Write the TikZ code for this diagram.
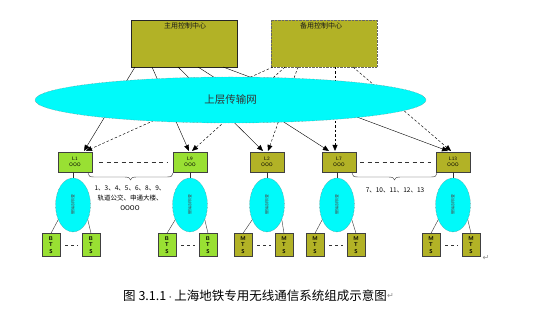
\documentclass[tikz,border=0pt]{standalone}
\usepackage{fontspec}
\newfontfamily\cjk{Noto Sans CJK SC}
\newfontfamily\dv{DejaVu Sans}
\usetikzlibrary{arrows.meta,decorations.pathreplacing,shapes.geometric}
\definecolor{oliveA}{RGB}{178,178,38}
\definecolor{limeA}{RGB}{153,224,51}
\definecolor{cyanA}{RGB}{0,250,250}
\tikzset{
  ctrlbox/.style={draw=black!85, fill=oliveA, minimum width=106pt, minimum height=47pt, inner sep=0},
  ctrltext/.style={font=\cjk\fontsize{7}{8}\selectfont, text=black!90, inner sep=0},
  lnode/.style={draw=black!75, minimum width=34pt, minimum height=20pt, inner sep=0, align=center, font=\sffamily\fontsize{5}{5.5}\selectfont},
  subnet/.style={ellipse, draw=black!60, densely dotted, fill=cyanA, minimum width=35pt, minimum height=54pt, inner sep=0},
  subtext/.style={font=\cjk\fontsize{4}{4}\selectfont, text=black!70, rotate=-90},
  basebox/.style={draw=black!75, minimum width=18pt, minimum height=23pt, inner sep=0, align=center, font=\sffamily\bfseries\fontsize{5.5}{6.5}\selectfont},
  link/.style={draw=black, line width=0.4pt, -{Triangle[length=6pt,width=5pt]}},
  dlink/.style={draw=black, line width=0.45pt, dash pattern=on 2.5pt off 2pt, -{Triangle[length=6pt,width=5pt]}},
  gap/.style={draw=black!80, dash pattern=on 4pt off 3.5pt, line width=0.5pt},
  sgap/.style={draw=black!80, dash pattern=on 3pt off 3pt, line width=0.5pt},
  thin/.style={draw=black!80, line width=0.4pt},
  note/.style={font=\cjk\fontsize{6.5}{10}\selectfont, align=center, inner sep=0},
  pmark/.style={font=\dv\fontsize{8}{8}\selectfont, text=black!45, inner sep=0}
}
\begin{document}
\begin{tikzpicture}[x=1pt,y=-1pt]
\useasboundingbox[fill=white] (0,0) rectangle (547,320);
% control centres
\node[ctrlbox] (main) at (184,43.5) {};
\node[ctrlbox, draw=black!60, densely dotted] (backup) at (324,43.5) {};
\node[ctrltext] (maint) at (185,26) {主用控制中心};
\node[ctrltext] (backupt) at (321,26) {备用控制中心};
% L nodes
\node[lnode, fill=limeA] (L1) at (75,162) {L1\\OOO};
\node[lnode, fill=limeA] (L9) at (190,162) {L9\\OOO};
\node[lnode, fill=oliveA] (L2) at (267,162) {L2\\OOO};
\node[lnode, fill=oliveA] (L7) at (339,162) {L7\\OOO};
\node[lnode, fill=oliveA] (L13) at (453,162) {L13\\OOO};
% start points on control boxes
\coordinate (m1) at (135,67);
\coordinate (m2) at (152,67);
\coordinate (m3) at (178,67);
\coordinate (m4) at (198,67);
\coordinate (m5) at (223,67);
\coordinate (b1) at (273,67);
\coordinate (b2) at (285,67);
\coordinate (b3) at (298,67);
\coordinate (b4) at (335,67);
\coordinate (b5) at (353,67);
\coordinate (t1) at (84,151);
\coordinate (t2) at (189,151);
\coordinate (t3) at (263,151);
\coordinate (t4) at (329,151);
\coordinate (t5) at (448,151);
\coordinate (u1) at (86,151);
\coordinate (u2) at (192,151);
\coordinate (u3) at (268,151);
\coordinate (u4) at (335,151);
\coordinate (u5) at (451,151);
\draw[link] (m1) -- (t1);
\draw[link] (m2) -- (t2);
\draw[link] (m3) -- (t3);
\draw[link] (m4) -- (t4);
\draw[link] (m5) -- (t5);
\draw[dlink] (b1) -- (u1);
\draw[dlink] (b2) -- (u2);
\draw[dlink] (b3) -- (u3);
\draw[dlink] (b4) -- (u4);
\draw[dlink] (b5) -- (u5);
% upper transport network
\node[ellipse, draw=black!55, densely dotted, fill=cyanA, minimum width=391pt, minimum height=46pt, inner sep=0,
      font=\cjk\fontsize{10.5}{12}\selectfont, text=black!80] (net) at (230.5,100) {上层传输网};
% gaps and braces
\draw[gap, shorten <=7pt, shorten >=5pt] (L1) -- (L9);
\draw[gap, shorten <=4pt, shorten >=5pt] (L7) -- (L13);
\coordinate (br1a) at (88,173);
\coordinate (br1b) at (173,173);
\coordinate (br2a) at (352,173);
\coordinate (br2b) at (437,173);
\draw[thin] (br1a) .. controls (88,176) and (90,177) .. (94,177) -- (124.5,177) .. controls (128.5,177) and (130.5,178) .. (130.5,180)
             .. controls (130.5,178) and (132.5,177) .. (136.5,177) -- (167,177) .. controls (171,177) and (173,176) .. (br1b);
\draw[thin] (br2a) .. controls (352,176) and (354,177) .. (358,177) -- (388.5,177) .. controls (392.5,177) and (394.5,178) .. (394.5,180)
             .. controls (394.5,178) and (396.5,177) .. (400.5,177) -- (431,177) .. controls (435,177) and (437,176) .. (br2b);
\node[note] (n1) at (130,198.5) {1、3、4、5、6、8、9、\\轨道公交、申通大楼、\\OOOO};
\node[note] (n2) at (395,190) {7、10、11、12、13};
% sub networks
\node[subnet] (e1) at (73,205) {};
\node[subnet] (e9) at (190,205) {};
\node[subnet] (e2) at (267,205) {};
\node[subnet] (e7) at (337,205) {};
\node[subnet] (e13) at (453,205) {};
\node[subtext] (e1t) at (e1) {基站控制器};
\node[subtext] (e9t) at (e9) {基站控制器};
\node[subtext] (e2t) at (e2) {基站控制器};
\node[subtext] (e7t) at (e7) {基站控制器};
\node[subtext] (e13t) at (e13) {基站控制器};
\draw[thin] (L1.south -| e1) -- (e1.north);
\draw[thin] (L9.south) -- (e9.north);
\draw[thin] (L2.south) -- (e2.north);
\draw[thin] (L7.south -| e7) -- (e7.north);
\draw[thin] (L13.south) -- (e13.north);
% base stations
\node[basebox, fill=limeA] (s1a) at (51,245) {B\\T\\S};
\node[basebox, fill=limeA] (s1b) at (91,245) {B\\T\\S};
\node[basebox, fill=limeA] (s9a) at (167,245) {B\\T\\S};
\node[basebox, fill=limeA] (s9b) at (208,245) {B\\T\\S};
\node[basebox, fill=oliveA] (s2a) at (243,245) {M\\T\\S};
\node[basebox, fill=oliveA] (s2b) at (284,245) {M\\T\\S};
\node[basebox, fill=oliveA] (s7a) at (315,245) {M\\T\\S};
\node[basebox, fill=oliveA] (s7b) at (356,245) {M\\T\\S};
\node[basebox, fill=oliveA] (s13a) at (431,245) {M\\T\\S};
\node[basebox, fill=oliveA] (s13b) at (471,245) {M\\T\\S};
\foreach \e/\a/\b in {e1/s1a/s1b, e9/s9a/s9b, e2/s2a/s2b, e7/s7a/s7b, e13/s13a/s13b}{
  \draw[thin] (\e.225) -- (\a.north);
  \draw[thin] (\e.315) -- (\b.north);
  \draw[sgap, shorten <=5pt, shorten >=4pt] (\a) -- (\b);
}
\node[pmark] (pm1) at (486,258) {↵};
% caption
\node[font=\cjk\fontsize{12.5}{14}\selectfont, anchor=west, inner sep=0] (cap) at (123,296) {图 3.1.1{\color{black!60}\fontsize{8}{8}\selectfont ·}上海地铁专用无线通信系统组成示意图};
\node[pmark, anchor=west] (pm2) at (cap.east) {↵};
\end{tikzpicture}
\end{document}
